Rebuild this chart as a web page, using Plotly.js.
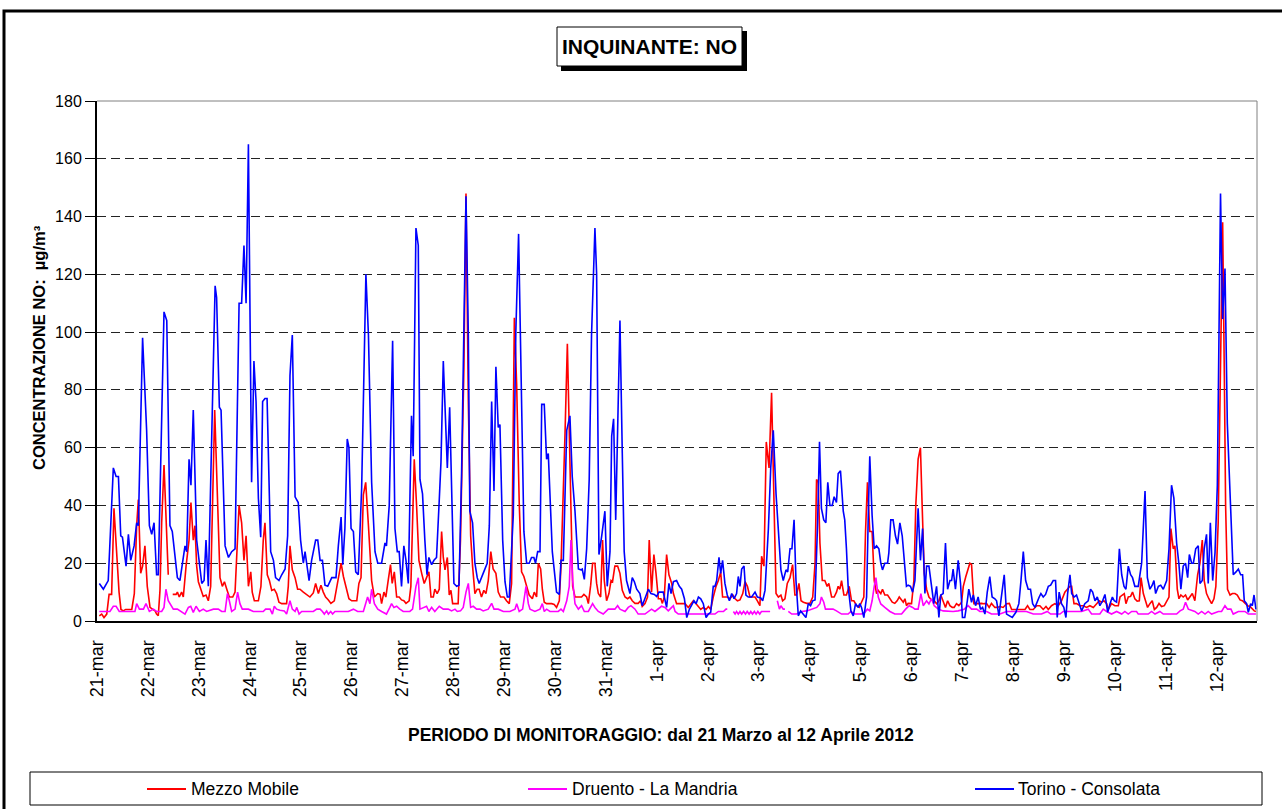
<!DOCTYPE html>
<html>
<head>
<meta charset="utf-8">
<script src="https://cdn.plot.ly/plotly-3.0.1.min.js"></script>
<style>
html,body{margin:0;padding:0;background:#fff;}
#chart{width:1282px;height:809px;}
</style>
</head>
<body>
<div id="chart"></div>
<script>
// ---------------- DATA ----------------
// Day tick labels (one per day, hour 0 of each day)
const dayLabels = ["21-mar","22-mar","23-mar","24-mar","25-mar","26-mar","27-mar","28-mar","29-mar","30-mar","31-mar",
  "1-apr","2-apr","3-apr","4-apr","5-apr","6-apr","7-apr","8-apr","9-apr","10-apr","11-apr","12-apr"];

// Series: [hours since 21-mar 00:00, NO concentration µg/m³]
const mezzoMobile = [
[1.1,1.8],[2.2,2.4],[3.3,1.2],[4.6,2.4],[5.7,9.2],[6.9,9.2],[8.0,39],[9.3,22.4],[10.4,10],[11.3,4],[12.4,3.5],[13.5,4],[15.1,4],[16.4,4],[17.6,9.5],[18.7,33],[19.5,42],[20.6,16.5],[21.5,19],[22.6,26],[23.7,12],[25.0,4.7],[26.3,4],[27.4,3.5],[28.1,2.4],[28.9,1.8],[29.7,10.6],[30.5,34],[31.6,54],[32.5,38],[33.6,16],[34.6,null],
[35.7,9.2],[37.3,9.2],[37.9,10],[38.8,8.3],[39.9,10],[40.7,8.3],[42.0,19],[43.4,28],[44.3,41],[45.4,28],[46.2,33],[47.0,19],[47.8,13.6],[49.0,11],[50.1,8.5],[51.4,9],[52.5,7],[53.6,12],[55.5,73],[56.4,52],[58.0,15],[59.1,12],[60.1,13.6],[61.2,11],[62.4,8.3],[64.0,8.3],[65.1,10],[67.0,40],[68.2,34],[69.3,21],[70.3,29.5],[71.4,12],[72.5,17],[73.2,10],[74.2,7],[76.1,7],[77.3,12],[78.4,28],[79.2,34],[80.3,16],[81.3,14],[82.4,10.6],[83.6,11],[84.7,9.5],[85.8,6.5],[87.1,6],[89.4,6],[90.2,12],[91.0,26],[92.1,17.7],[93.4,15],[94.6,11],[95.7,11],[97.3,10],[98.9,9],[100.4,8.3],[102.0,9.7],[103.1,13],[104.4,9.5],[105.6,12.4],[106.7,10],[107.8,8.3],[109.1,7.3],[110.3,6.1],[111.9,7],[113.5,14],[115.1,20],[116.2,15.4],[117.4,12],[118.8,7.7],[120.1,7],[122.5,7],[123.5,13],[124.5,15],[125.6,43.7],[126.7,48],[128.0,33],[129.5,14],[130.8,8.3],[132.4,9.5],[133.5,9.2],[134.2,6],[135.3,10],[136.2,8.3],[137.3,14],[138.4,19.5],[139.2,13],[140.2,17],[141.3,8.3],[142.5,8.3],[143.6,7.3],[144.7,7],[145.7,6.1],[147.2,7],[148.0,12],[148.6,28],[149.6,56],[150.7,40],[151.8,21],[153.1,16.5],[154.3,13],[155.4,15],[156.5,17],[157.5,8.3],[158.6,8.3],[159.3,11],[160.4,9.5],[161.4,11],[162.5,31],[163.3,22],[164.1,17.7],[165.2,22],[166.1,9],[166.9,10.6],[167.7,6],[170.3,6],[171.4,28],[173.0,87],[174.0,148],[175.1,76],[176.2,29.5],[177.1,19],[178.2,9.5],[179.3,11],[180.2,11],[181.3,8.3],[182.4,10.6],[183.4,9.5],[184.5,14],[185.7,24],[186.8,18],[188.1,16.5],[189.2,10],[190.3,8.3],[191.9,8.3],[193.1,7],[194.4,6],[195.5,13],[196.8,105],[197.9,81.5],[199.1,41],[200.2,17],[201.3,15.4],[202.6,12],[203.8,9],[205.3,7.7],[206.2,10],[207.3,8.3],[208.1,20],[209.2,18],[210.0,11],[210.9,6.5],[212.0,6],[214.4,6],[215.6,5.7],[216.7,4.7],[218.0,7],[218.8,19],[219.9,44],[220.7,65],[221.8,96],[222.7,64],[223.5,28],[224.3,12],[225.4,8.3],[227.0,8.3],[228.5,8.3],[229.6,9.2],[230.9,8.3],[231.7,6],[232.8,12.4],[233.7,20],[234.8,20],[235.6,13],[236.4,9.5],[237.5,8.3],[238.4,28],[239.2,14],[240.3,7],[241.4,9.5],[242.4,14],[243.1,13.6],[244.2,19],[245.5,19],[246.6,16.5],[247.7,10.6],[249.0,8.3],[250.2,7.7],[251.3,8.3],[252.4,7],[253.7,6.1],[255.2,6.1],[256.3,7],[257.1,5],[258.4,6],[259.6,8.3],[260.4,28],[261.5,10],[262.6,23],[263.6,16.5],[264.7,7.7],[265.9,7.7],[266.6,6.1],[267.5,8.3],[268.6,23],[269.7,16],[271.0,13],[271.8,9.5],[273.3,6],[275.7,6],[277.3,6],[278.8,4.7],[280.1,6],[281.2,7],[282.5,6],[283.6,5],[284.7,4],[285.9,4.7],[287.2,4],[288.3,5],[289.4,4],[290.6,8.3],[291.9,12],[293.0,14],[294.1,17],[295.0,8.3],[296.1,8.3],[297.2,8.3],[298.5,7.7],[299.8,9],[300.9,7.7],[302.0,7],[303.2,7.3],[304.5,9.5],[305.6,13.6],[306.7,12],[307.9,8.3],[309.2,8.3],[310.3,8.3],[311.4,7],[312.6,5.3],[313.4,22.4],[314.5,19],[315.6,62],[316.9,53],[318.1,79],[319.2,40],[320.2,9.5],[321.3,8.3],[322.5,9],[323.3,7],[324.4,7.7],[325.5,13],[326.8,15],[328.0,19.5],[329.1,9],[329.9,9],[331.0,13],[332.0,7],[333.1,6.5],[334.7,6.1],[336.2,6.1],[337.5,8.3],[338.6,20],[339.3,49],[340.1,48],[340.9,27],[342.0,14],[343.2,14],[344.3,12],[345.1,13],[346.4,8.3],[347.6,8.3],[348.7,10],[349.5,12],[350.3,11],[351.1,14],[352.2,9],[353.4,9],[354.7,12],[355.8,7],[356.9,7],[358.2,5.3],[359.4,4.7],[360.5,6.5],[361.6,8.3],[362.4,31],[363.3,48],[364.4,31],[365.5,31],[366.5,14],[367.6,9.5],[368.4,10.6],[369.6,9.5],[370.4,11],[371.5,9],[372.8,9],[373.9,7.7],[375.0,6.5],[376.2,6.1],[377.3,7],[378.3,8.3],[379.4,7.3],[380.2,6.5],[381.0,7.7],[381.7,5.3],[382.5,6.1],[384.1,6],[385.2,14],[386.1,40],[387.2,56],[388.3,60],[389.1,40],[390.1,16.5],[391.2,11],[392.3,8.3],[393.5,7.3],[394.8,7],[395.9,6],[397.0,7],[397.9,9],[399.0,6.5],[400.1,4.7],[401.1,7],[402.2,5.3],[403.3,4.7],[404.2,4.7],[405.3,6],[406.4,5.3],[407.7,6.5],[408.5,12],[409.7,15.4],[410.8,17.7],[411.6,20],[412.4,19.5],[413.5,6],[414.8,6],[416.0,6.1],[417.1,6.1],[418.2,6],[419.5,6],[420.7,4.7],[421.8,6.1],[423.4,4.7],[424.5,4.7],[425.8,5],[427.3,4.7],[428.9,6],[430.2,6.1],[431.3,4],[432.8,4],[434.4,4],[436.0,4],[437.6,4],[438.8,5.3],[439.9,4],[441.5,4],[443.1,5.3],[444.6,5.3],[446.2,4],[447.5,5],[448.6,4],[450.1,5.3],[451.7,6],[453.3,5.3],[454.8,7],[456.4,10],[457.5,11],[458.8,12],[459.6,12],[460.7,6],[461.9,6],[463.5,5.3],[465.1,5.3],[466.6,4.7],[468.2,5.3],[469.8,4.7],[471.4,6],[472.6,7],[473.7,6.5],[474.8,7],[476.1,6],[476.9,4],[478.4,6],[480.0,5.3],[481.6,5.3],[482.4,8.3],[483.5,9],[484.4,9.5],[485.2,6],[486.3,8.3],[487.4,8.5],[488.3,10],[489.4,7.7],[490.5,6.9],[491.5,7],[492.3,15],[493.4,9.5],[494.5,7],[495.4,4.7],[496.5,6],[497.6,7],[498.6,4],[499.7,4.7],[500.8,6.1],[502.0,5],[503.3,5.3],[504.4,7],[505.5,8.3],[506.4,32],[507.5,25],[508.3,26],[509.4,11],[510.2,7.7],[511.1,9],[512.2,8.3],[513.3,9],[514.3,7.3],[515.4,8.3],[516.5,9.5],[517.7,7],[519.0,16],[520.1,20],[521.2,28],[522.1,14],[523.2,9.5],[524.3,7.7],[525.6,6],[526.7,7.7],[527.6,12],[528.7,34],[529.8,87],[530.8,138],[531.6,85],[532.2,40],[533.1,11],[534.3,9],[535.4,9.5],[536.6,9.5],[537.7,9],[539.0,7.3],[540.1,7],[541.3,6],[542.6,5.3],[543.7,5],[544.8,4],[545.7,3.5],[546.5,3.3]
];

const druentoLaMandria = [
[1.1,3.3],[6.1,3.3],[7.7,5.1],[9.0,5.1],[10.5,3.3],[13.7,3.3],[17.9,3.3],[18.7,6],[20.0,4.1],[21.9,4.1],[23.1,6],[24.7,3.3],[26.6,4.1],[28.1,3.3],[30.5,3.3],[31.6,4.7],[32.5,11],[33.6,7],[34.4,6],[36.0,4.1],[37.9,4.1],[39.9,3.3],[41.5,2.4],[43.1,4.7],[44.2,5.1],[45.4,3],[46.7,5.1],[48.3,3.3],[50.1,4.1],[51.7,3.3],[54.9,4.1],[57.2,4.1],[58.8,3.3],[60.4,3.3],[61.5,9.5],[62.4,7],[63.5,3.3],[65.1,4.1],[66.3,10],[67.4,6],[68.5,4.1],[71.4,4.1],[73.7,3.3],[78.4,3.3],[79.5,4.1],[81.6,4.1],[82.7,2.4],[83.6,5.1],[84.7,4.1],[86.3,3.7],[88.3,3.5],[89.4,2.4],[91.0,7],[92.1,4.1],[93.4,3.3],[94.2,4.7],[95.3,2.4],[96.5,3.3],[102.0,3.3],[103.6,4.1],[105.2,4.1],[106.3,3.3],[107.2,2.4],[108.3,3.5],[109.1,2.4],[110.2,3.3],[111.1,2.4],[112.2,3.3],[116.2,3.3],[118.5,3.3],[120.9,4.1],[122.9,3.3],[125.6,3.3],[126.7,6],[127.6,8.3],[128.7,6],[129.5,11],[130.8,6],[132.4,4.1],[134.2,3.3],[136.5,2.4],[138.1,4.7],[138.9,6],[140.0,4.7],[141.3,5.1],[142.8,4.1],[144.4,3.3],[147.5,3.3],[148.8,4.1],[150.4,12],[151.5,15],[152.3,4.1],[153.8,4.7],[155.4,5.1],[156.5,3.3],[157.8,4.7],[159.3,3.3],[161.4,5.1],[163.3,4.1],[165.6,4.1],[167.2,3.5],[168.8,4.1],[169.9,3.3],[171.4,3.5],[172.7,4.7],[174.0,10],[175.1,13],[176.2,4.7],[177.4,5.1],[179.0,4.1],[180.6,4.1],[182.1,3.5],[184.5,4.1],[186.1,6.1],[187.2,4.1],[189.2,4.1],[191.6,3.3],[194.7,3.3],[197.1,4.1],[197.9,6],[199.1,3.3],[200.7,4.1],[202.3,12],[203.4,6],[204.2,4.1],[206.5,3.3],[208.9,4.1],[210.0,6],[210.9,3.3],[212.0,4.1],[213.6,3.3],[217.5,3.3],[218.8,4.1],[219.9,3.3],[221.5,7],[222.7,12],[223.5,28],[224.3,14],[225.4,6],[227.0,4.1],[228.5,5.3],[229.8,3.3],[231.7,3.3],[233.7,6],[234.8,4.7],[236.4,3.3],[238.7,2.4],[241.1,4.1],[244.2,4.1],[245.5,5.3],[246.6,4.1],[249.0,3.3],[250.5,4.7],[251.8,5.3],[253.7,4.1],[255.2,2.4],[258.4,2.4],[260.0,3.3],[261.5,4.1],[263.1,3.3],[264.7,4.1],[266.2,5.1],[267.8,4.7],[269.4,3.5],[271.0,4.7],[271.8,5.3],[272.6,3.3],[274.1,2.4],[276.5,2.4],[279.6,2.4],[282.8,2.4],[285.9,2.4],[289.1,2.4],[291.4,2.4],[293.0,3.3],[295.4,3.3],[296.6,4.1],[297.2,4.1],[298.5,null],
[300.1,3.3],[300.9,2.4],[301.6,3.3],[302.4,2.4],[303.2,3.3],[304.0,2.4],[304.9,3.3],[305.8,2.4],[306.6,3.3],[307.5,2.4],[308.3,3.3],[309.1,2.4],[310.0,3.3],[310.8,2.4],[311.6,3.3],[312.5,2.4],[313.3,3.3],[314.2,3.3],[315.8,3.3],[317.4,3.3],[319.0,null],
[320.8,7],[321.8,4.1],[322.5,5.3],[323.6,4.1],[324.4,4.1],[325.2,null],
[326.0,3.3],[327.6,2.4],[329.9,2.4],[332.3,3.3],[334.7,3.5],[337.0,4.1],[339.4,4.7],[340.9,6],[341.6,8.3],[342.7,6.5],[343.5,4.1],[345.1,4.1],[347.1,4.1],[348.7,3.5],[351.1,2.4],[354.2,2.4],[355.5,3.3],[357.4,2.4],[360.5,2.4],[362.1,3],[363.3,4.1],[364.4,3.5],[365.5,7],[366.5,12],[367.3,15],[368.4,8.3],[369.6,5.9],[371.5,4.7],[373.9,3.3],[376.2,2.4],[379.4,2.4],[381.3,4.1],[383.0,5.3],[384.6,4.7],[385.7,4.1],[387.2,4.1],[388.5,9.5],[389.6,5.3],[391.2,7],[392.3,5.9],[393.5,7.7],[394.8,5.3],[396.7,4.1],[399.0,3.5],[401.4,3.3],[403.7,3.3],[406.1,3.5],[408.9,4.1],[410.8,5.3],[412.4,4.1],[414.8,4.1],[416.3,3.3],[419.5,3.3],[421.8,2.4],[425.8,2.4],[428.9,3.3],[432.1,3.3],[435.2,3.3],[438.3,3.3],[441.5,2.4],[445.4,2.4],[448.1,3.3],[449.7,2.4],[454.1,2.4],[455.6,3.3],[460.3,3.3],[464.3,3.3],[467.4,4.1],[469.0,2.4],[472.9,2.4],[474.5,4.1],[476.1,3.3],[478.4,2.4],[480.8,3.3],[483.2,2.4],[484.7,3.3],[486.3,2.4],[487.9,3.3],[490.2,3.3],[491.0,2.4],[495.7,2.4],[497.3,3.3],[498.9,2.4],[501.2,3.3],[502.8,2.4],[509.1,2.4],[510.7,3.5],[512.2,4.1],[513.3,6.5],[514.6,4.1],[516.5,3.5],[517.7,3.3],[519.3,2.4],[520.9,3.3],[522.5,2.4],[524.0,3.3],[525.6,2.4],[528.8,3.3],[530.3,3.3],[531.9,5.3],[533.1,4.1],[534.7,4.1],[535.8,2.4],[538.2,3.3],[541.3,3.3],[542.9,2.4],[546.5,2.4]
];

const torinoConsolata = [
[1.1,13],[3.0,11],[5.3,14],[7.7,53],[9.0,50],[10.1,50],[11.2,29.5],[12.0,29],[13.7,19],[14.8,30],[15.9,21],[17.5,26],[18.7,34],[19.5,33],[21.5,98],[23.4,66],[24.7,33],[25.8,30],[26.9,34],[28.1,16],[28.9,16],[31.6,107],[32.9,104],[34.4,33],[35.5,31],[37.9,15],[39.1,14],[41.5,26],[42.3,24],[43.4,56],[44.3,47],[45.4,73],[47.0,28],[49.4,13],[50.5,14],[51.4,28],[52.5,12],[54.9,99],[55.7,116],[56.4,112],[57.7,74],[58.5,73],[60.4,26],[62.0,22],[63.5,24],[65.1,25],[67.0,110],[68.2,110],[69.3,130],[70.3,110],[71.4,165],[72.9,48],[74.0,90],[75.0,76],[76.1,42.5],[77.2,29],[78.1,76],[79.2,77],[80.2,77],[81.9,24],[83.2,21],[84.2,15],[85.8,14],[87.1,16],[88.7,18],[89.9,29.5],[91.0,85],[92.1,99],[93.4,43],[94.9,41],[96.0,28],[97.3,20],[98.1,24],[100.0,14],[101.2,21],[103.1,28],[104.1,28],[105.2,21],[106.3,21],[107.5,12.4],[108.8,12],[110.7,15],[112.7,15],[113.8,26],[115.1,36],[115.9,19.5],[116.9,32],[118.0,63],[118.8,60],[119.8,32],[120.9,31],[122.0,17],[123.2,16],[124.8,46],[126.8,120],[128.0,99],[129.5,48],[131.1,24],[132.4,20],[134.2,20],[135.8,27],[136.5,26],[137.8,40],[139.4,97],[140.5,32],[141.6,24],[142.5,24],[143.6,12],[144.7,26],[145.7,21],[146.8,13],[148.3,71],[149.1,57],[150.4,136],[151.5,130],[152.3,49],[153.5,44],[154.6,28],[155.6,16],[156.5,22],[157.8,19.5],[158.9,21],[160.1,22],[161.4,42],[162.2,55],[163.3,90],[164.1,71],[165.2,53],[166.3,74],[167.2,48],[168.3,13],[169.6,12],[170.7,12.4],[171.9,50],[173.0,105],[174.0,147],[175.1,99],[175.8,38],[177.1,34],[178.2,20],[179.3,15],[180.2,13],[182.1,16.5],[184.0,20],[185.0,33],[186.1,76],[187.2,45],[188.1,88],[189.2,67],[190.0,68],[191.3,28],[192.4,13.6],[193.5,8.3],[194.4,8.3],[196.3,36.6],[197.5,100],[198.8,134],[200.2,78],[201.3,31],[202.6,20],[203.8,20],[204.9,22],[206.0,22],[206.8,20],[207.8,24],[208.9,24],[209.7,75],[210.9,75],[212.0,56],[212.8,58],[214.7,24],[216.7,10],[218.0,9.2],[218.8,21],[219.9,21],[221.5,66],[223.0,71],[224.1,50],[225.4,38],[227.0,18],[228.2,17.7],[228.8,18],[229.8,14.4],[230.9,25],[232.1,49],[233.2,99],[234.8,136],[235.6,120],[236.7,23],[238.0,29.5],[239.5,38],[240.6,12],[241.9,24],[242.7,64],[243.6,70],[244.6,35],[246.6,104],[247.7,58],[248.6,24],[249.7,14],[251.3,9.5],[252.4,15],[253.4,13.6],[254.5,11],[256.0,9.5],[257.1,5.3],[258.4,7.7],[260.0,11],[261.2,9.5],[262.8,9.2],[263.9,8.5],[265.0,10],[267.0,10],[268.6,4.7],[269.7,13],[270.7,9.5],[271.8,13.6],[273.3,14],[274.6,12],[275.7,11],[277.0,7.7],[278.1,1.2],[279.3,4],[280.4,5.3],[281.5,7],[282.5,6],[283.6,8.3],[284.7,7.7],[285.9,6],[287.2,1.2],[288.3,2.4],[289.4,3],[290.6,12],[291.4,12],[292.2,14],[293.3,22],[294.1,16.5],[295.0,21],[296.1,13],[297.2,9],[298.2,7],[299.3,9.5],[300.4,7.7],[301.6,9.5],[302.4,15.4],[303.2,12],[304.0,18],[305.1,19],[306.0,9],[307.1,8.3],[308.7,8.3],[310.3,10],[311.4,8.3],[313.0,8],[313.9,7],[315.0,10.6],[316.6,32],[317.7,53],[318.9,66],[320.2,44],[321.3,31],[322.5,17.7],[323.6,14],[324.9,17.7],[325.7,17],[326.8,25],[327.7,25],[328.7,35],[329.6,14],[330.7,1.8],[331.8,3.5],[333.1,2.4],[334.3,1.2],[335.4,6],[336.5,5.3],[337.5,7],[338.6,7.3],[339.8,34],[340.7,62],[341.6,39],[342.7,35],[343.7,34],[344.6,48],[345.6,40],[346.7,40],[347.6,43],[348.7,41],[349.5,51],[350.6,52],[351.9,38],[352.6,35],[353.4,25],[354.2,12],[355.5,3.5],[356.6,1.8],[357.7,6],[358.9,4.7],[359.7,6],[360.5,4.7],[361.6,1.2],[362.9,8.3],[363.7,36.6],[364.4,57],[365.5,36.6],[366.5,25],[367.6,26],[368.7,25],[369.6,20],[370.4,17.7],[371.5,20],[372.8,20],[373.4,23.6],[374.3,35],[375.4,35],[376.5,29.5],[377.5,26.6],[378.6,34],[379.7,29.5],[380.6,22.4],[381.7,12],[382.5,12.4],[383.6,12],[384.6,10],[385.7,14],[386.4,26],[387.2,39],[388.3,21],[389.3,32],[390.4,9.5],[391.2,19],[392.3,19],[393.5,12],[394.6,6],[395.9,12],[397.0,1.2],[397.9,9],[399.0,9.5],[400.1,27],[401.1,11],[402.2,14],[403.0,14],[403.7,18],[404.8,11],[406.1,21],[407.2,13],[408.1,1.2],[409.2,1.2],[410.4,7],[411.1,11],[412.4,6.5],[413.2,9],[414.3,5.3],[415.5,8.3],[416.6,4],[417.6,4.7],[418.7,2.4],[419.8,10],[421.0,15.4],[422.1,8.3],[423.4,7.7],[424.2,7],[425.3,1.8],[426.6,8.3],[427.8,16],[428.9,2.4],[430.2,1.8],[431.6,1.2],[433.3,3],[434.7,6],[435.7,14],[436.8,24],[437.9,14],[439.1,11],[440.2,11],[441.2,6],[442.3,4.7],[443.4,7],[444.3,8.3],[445.1,9.5],[446.2,8.3],[447.3,9.2],[448.6,12],[449.7,12.4],[450.9,14],[452.0,14],[452.8,1.2],[453.7,10],[454.8,6],[455.9,4.7],[456.9,1.2],[457.7,9.5],[458.8,16],[459.6,9.5],[460.7,8.3],[461.9,9],[463.2,6],[464.3,3.5],[465.8,6],[467.4,7],[468.5,11],[469.5,10],[470.6,7],[471.7,8.3],[472.9,5.3],[474.2,7],[475.3,9.2],[476.6,3],[477.7,6],[478.8,8.3],[479.7,7],[480.8,6.5],[482.1,25],[483.2,16],[484.3,12],[485.2,11],[486.3,19],[487.4,16],[488.3,15],[489.4,12],[491.0,12],[492.6,20],[494.2,45],[495.3,15],[496.5,11],[497.6,12.4],[498.4,14],[499.2,9.5],[500.5,12],[501.6,12.4],[502.8,11],[504.4,14],[505.5,25],[506.7,47],[507.8,42.5],[509.1,27],[510.2,19.5],[511.1,11],[512.2,19],[513.3,20],[514.3,15],[515.1,23],[516.2,20],[517.0,20],[518.1,25],[519.3,26],[520.1,13],[521.2,14],[522.1,25],[523.2,30],[524.0,13],[525.0,34],[526.1,14],[527.2,23.6],[528.3,47],[529.8,148],[530.8,104.5],[531.9,122],[533.0,68.5],[534.3,41],[535.8,16],[537.1,17],[538.2,18],[539.3,16],[540.2,16],[541.0,7],[542.1,6],[542.9,3],[544.0,6],[544.8,5.3],[545.6,9],[546.5,4]
];

const seriesNames = ["Mezzo Mobile", "Druento - La Mandria", "Torino - Consolata"];
const seriesColors = ["#FF0000", "#FF00FF", "#0000FF"];
const yTitle = "CONCENTRAZIONE NO:  µg/m³";
const xTitle = "PERIODO DI MONITORAGGIO: dal 21 Marzo al 12 Aprile 2012";
const chartTitle = "INQUINANTE: NO";

// ---------------- LAYOUT HELPERS ----------------
const W = 1282, H = 809;
const PL = 97, PR = 1257, PT = 101, PB = 621;   // plot area in page pixels
const px = x => (x - PL) / (PR - PL);
const py = y => (PB - y) / (PB - PT);
const FONT = 'Arial, "Liberation Sans", sans-serif';

const allSeries = [mezzoMobile, druentoLaMandria, torinoConsolata];
const traces = allSeries.map((s, i) => ({
  type: 'scatter', mode: 'lines', name: seriesNames[i],
  x: s.map(p => p[0]), y: s.map(p => p[1]),
  line: {color: seriesColors[i], width: 1.6},
  connectgaps: false, hoverinfo: 'skip'
}));

const rect = (x0, y0, x1, y1, extra) => Object.assign({
  type: 'rect', xref: 'paper', yref: 'paper',
  x0: px(x0), x1: px(x1), y0: py(y1), y1: py(y0)
}, extra);
const hline = (x0, x1, y, color, width) => ({
  type: 'line', xref: 'paper', yref: 'paper',
  x0: px(x0), x1: px(x1), y0: py(y), y1: py(y),
  line: {color: color, width: width}
});

const legendY = 789;
const legendItems = [
  {x: 147, tx: 189},
  {x: 528, tx: 570},
  {x: 975, tx: 1016}
];

const shapes = [
  // outer chart frame
  rect(4, 11, 1300, 830, {line: {color: '#000', width: 3}, fillcolor: 'rgba(0,0,0,0)', layer: 'below'}),
  // title box shadow + box
  rect(561, 31, 747, 71, {line: {width: 0}, fillcolor: '#000'}),
  rect(557, 27, 742, 66, {line: {color: '#000', width: 1}, fillcolor: '#fff'}),
  // plot area top and right border (gray)
  {type: 'line', xref: 'paper', yref: 'paper', x0: 0, x1: 1, y0: 1, y1: 1, line: {color: '#808080', width: 1}},
  {type: 'line', xref: 'paper', yref: 'paper', x0: 1, x1: 1, y0: 0, y1: 1, line: {color: '#808080', width: 1}},
  // legend box
  rect(30, 772, 1262, 805, {line: {color: '#000', width: 1}, fillcolor: 'rgba(0,0,0,0)'})
];
legendItems.forEach((it, i) => shapes.push(hline(it.x, it.x + 39, legendY, seriesColors[i], 2)));

const annotations = [
  {xref: 'paper', yref: 'paper', x: px(649.5), y: py(46.5), text: chartTitle, showarrow: false,
   xanchor: 'center', yanchor: 'middle', font: {family: FONT, size: 21, weight: 'bold', color: '#000'}},
  {xref: 'paper', yref: 'paper', x: px(39), y: py(348), text: yTitle, textangle: -90, showarrow: false,
   xanchor: 'center', yanchor: 'middle', font: {family: FONT, size: 16.5, weight: 'bold', color: '#000'}},
  {xref: 'paper', yref: 'paper', x: px(661), y: py(735), text: xTitle, showarrow: false,
   xanchor: 'center', yanchor: 'middle', font: {family: FONT, size: 17.5, weight: 'bold', color: '#000'}}
];
legendItems.forEach((it, i) => annotations.push({
  xref: 'paper', yref: 'paper', x: px(it.tx), y: py(legendY), text: seriesNames[i], showarrow: false,
  xanchor: 'left', yanchor: 'middle', font: {family: FONT, size: 17.5, color: '#000'}
}));

const layout = {
  width: W, height: H,
  margin: {l: PL, r: W - PR, t: PT, b: H - PB, pad: 0},
  paper_bgcolor: '#fff', plot_bgcolor: '#fff',
  showlegend: false,
  font: {family: FONT, color: '#000'},
  xaxis: {
    range: [0, 547], tickmode: 'array',
    tickvals: dayLabels.map((d, i) => i * 24), ticktext: dayLabels,
    tickangle: -90, ticks: 'outside', ticklen: 10, tickcolor: 'rgba(0,0,0,0)',
    tickfont: {family: FONT, size: 18, color: '#000'},
    showline: true, linecolor: '#000', linewidth: 2,
    showgrid: false, zeroline: false, fixedrange: true
  },
  yaxis: {
    range: [0, 180], tick0: 0, dtick: 20,
    ticks: 'outside', ticklen: 10, tickcolor: '#000', tickwidth: 1,
    tickfont: {family: FONT, size: 16, color: '#000'},
    showline: true, linecolor: '#000', linewidth: 2,
    showgrid: true, gridcolor: '#222', gridwidth: 1, griddash: '9px,5px',
    zeroline: false, fixedrange: true
  },
  shapes: shapes,
  annotations: annotations
};

Plotly.newPlot('chart', traces, layout, {displayModeBar: false, staticPlot: true});
</script>
</body>
</html>
